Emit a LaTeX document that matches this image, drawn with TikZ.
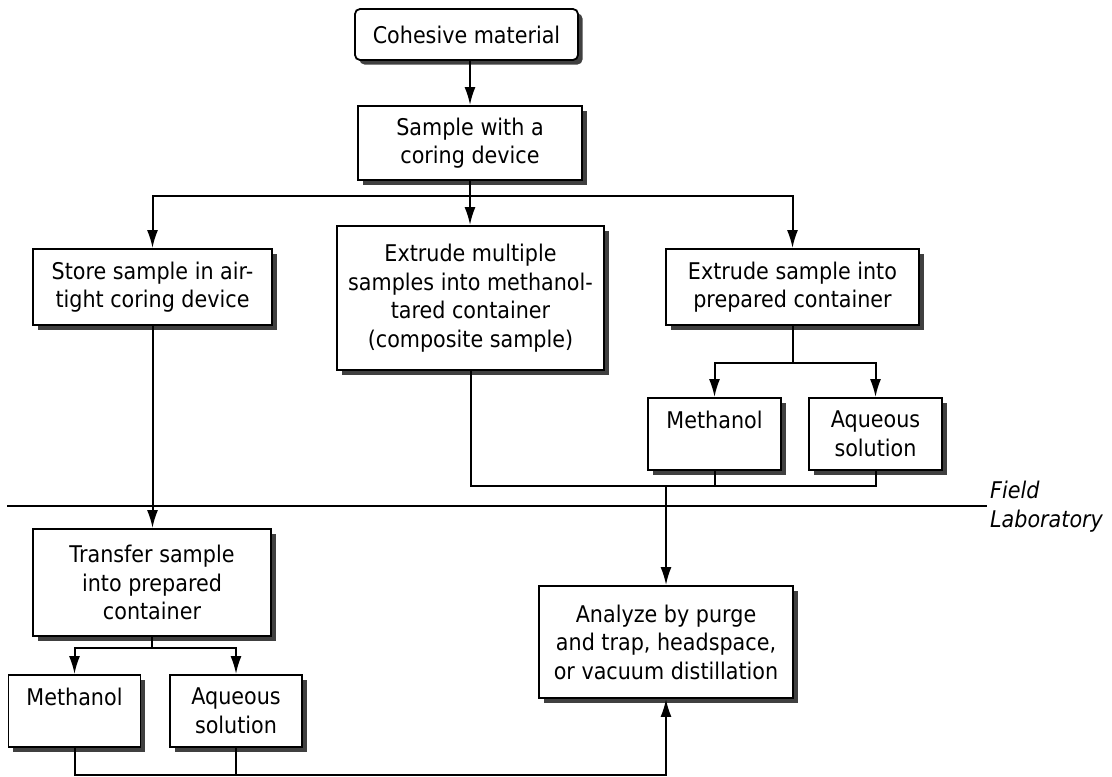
\documentclass[tikz,border=0pt]{standalone}
\usepackage{fontspec}
\setmainfont{DejaVu Sans}[FakeStretch=0.9]
\usepackage{tikz}
\usetikzlibrary{arrows.meta}
\usetikzlibrary{shadows}
\tikzset{>={Latex[length=18pt,width=11pt]}}

\begin{document}
\begin{tikzpicture}[x=1pt,y=-1pt,
	procnode/.style={draw,line width=1.8pt,fill=white,align=center,inner sep=0pt,
		font=\fontsize{23}{28.5}\selectfont,
		drop shadow={shadow xshift=4.5pt,shadow yshift=-4.5pt,fill=black!75,opacity=1}},
	flowline/.style={draw,line width=2pt},
	zonelabel/.style={anchor=base west,inner sep=0pt,font=\fontsize{23}{28.5}\selectfont\itshape}]

	\useasboundingbox (0,0) rectangle (1112,777);

	\node[procnode,rounded corners=5pt,minimum width=223pt,minimum height=51pt] (1) at (466.5,34.5) {Cohesive material};
	\node[procnode,minimum width=224pt,minimum height=74pt] (2) at (470,143) {Sample with a\\coring device};
	\node[procnode,minimum width=239pt,minimum height=76pt] (3) at (152.5,287) {Store sample in air-\\tight coring device};
	\node[procnode,minimum width=267pt,minimum height=144pt] (4) at (470.5,298) {Extrude multiple\\samples into methanol-\\tared container\\(composite sample)};
	\node[procnode,minimum width=253pt,minimum height=76pt] (5) at (792.5,287) {Extrude sample into\\prepared container};
	\node[procnode,minimum width=133pt,minimum height=72pt] (6) at (714.5,434) {Methanol\\\mbox{}};
	\node[procnode,minimum width=133pt,minimum height=72pt] (7) at (875.5,434) {Aqueous\\solution};
	\node[procnode,minimum width=254pt,minimum height=112pt] (8) at (666,642) {Analyze by purge\\and trap, headspace,\\or vacuum distillation};
	\node[procnode,minimum width=238pt,minimum height=107pt] (9) at (152,582.5) {Transfer sample\\into prepared\\container};
	\node[procnode,minimum width=132pt,minimum height=72pt] (10) at (74.5,711) {Methanol\\\mbox{}};
	\node[procnode,minimum width=132pt,minimum height=72pt] (11) at (236,711) {Aqueous\\solution};

	\coordinate (s1) at (470,196);
	\coordinate (s2) at (792.5,363);
	\coordinate (s3) at (152,648);
	\coordinate (j1) at (666,486);
	\coordinate (j2) at (666,775);

	\path[flowline,->] (1.south -| 2.north) -- (2.north);
	\path[flowline] (2.south) -- (s1);
	\path[flowline,->] (s1) -| (3.north);
	\path[flowline,->] (s1) -- (s1 |- 4.north);
	\path[flowline,->] (s1) -| (5.north);

	\path[flowline] (5.south) -- (s2);
	\path[flowline,->] (s2) -| (6.north);
	\path[flowline,->] (s2) -| (7.north);

	\path[flowline] (4.south) |- (j1) -| (7.south);
	\path[flowline] (6.south) -- (6.south |- j1);
	\path[flowline,->] (j1) -- (8.north);

	\path[flowline] (7,506) -- (987,506);
	\node[zonelabel] (field) at (990,498) {Field};
	\node[zonelabel] (lab) at (990,527) {Laboratory};

	\path[flowline,->] (3.south) -- (3.south |- 9.north);
	\path[flowline] (9.south) -- (s3);
	\path[flowline,->] (s3) -| (10.north);
	\path[flowline,->] (s3) -| (11.north);

	\path[flowline,->] (10.south) |- (j2) -- (8.south);
	\path[flowline] (11.south) -- (11.south |- j2);
\end{tikzpicture}
\end{document}
